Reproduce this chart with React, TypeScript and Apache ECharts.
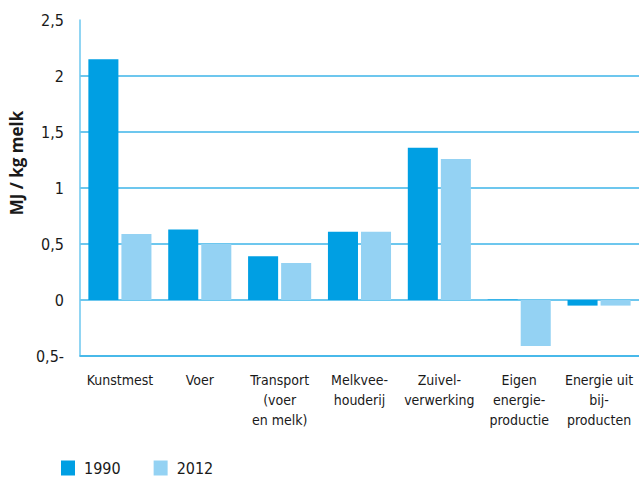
import React, { useEffect, useRef } from "react";
import * as echarts from "echarts";

const categories = [
  "Kunstmest",
  "Voer",
  "Transport\n(voer\nen melk)",
  "Melkvee-\nhouderij",
  "Zuivel-\nverwerking",
  "Eigen\nenergie-\nproductie",
  "Energie uit\nbij-\nproducten",
];
const values1990 = [2.15, 0.63, 0.39, 0.61, 1.36, 0.005, -0.05];
const values2012 = [0.59, 0.5, 0.33, 0.61, 1.26, -0.41, -0.05];
const seriesNames = ["1990", "2012"];

const FONT = "'Liberation Sans Narrow', 'DejaVu Sans Condensed', sans-serif";

export default function App() {
  const ref = useRef<HTMLDivElement>(null);
  useEffect(() => {
    document.body.style.margin = "0";
    const chart = echarts.init(ref.current!, null, { renderer: "svg" });
    const gridColor = "#3db5e8";
    chart.setOption({
      animation: false,
      textStyle: { fontFamily: FONT },
      grid: { left: 78, right: 0, top: 20, bottom: 122, containLabel: false },
      legend: {
        data: seriesNames,
        left: 56,
        top: 455,
        icon: "rect",
        itemWidth: 14,
        itemHeight: 15,
        itemGap: 33,
        textStyle: { fontSize: 16, color: "#1a1a1a", fontFamily: FONT, padding: [2, 0, 0, 4] },
      },
      xAxis: {
        type: "category",
        data: categories,
        axisLine: { show: true, onZero: false, lineStyle: { color: gridColor, width: 1.5 } },
        axisTick: { show: false },
        axisLabel: {
          interval: 0,
          margin: 14,
          fontSize: 14,
          lineHeight: 20,
          color: "#1a1a1a",
          fontFamily: FONT,
        },
      },
      yAxis: {
        type: "value",
        min: -0.5,
        max: 2.5,
        interval: 0.5,
        name: "MJ / kg melk",
        nameLocation: "middle",
        nameGap: 52,
        nameRotate: 90,
        nameTextStyle: {
          fontSize: 17,
          fontWeight: "bold",
          color: "#1a1a1a",
          fontFamily: "'Open Sans', sans-serif",
          padding: [0, 0, 0, 50],
        },
        axisLine: { show: true, lineStyle: { color: "#6cc7ef", width: 1.5 } },
        axisTick: { show: false },
        axisLabel: {
          margin: 16,
          fontSize: 16,
          color: "#1a1a1a",
          fontFamily: FONT,
          formatter: (v: number) =>
            v < 0 ? String(-v).replace(".", ",") + "-" : String(v).replace(".", ","),
        },
        splitLine: {
          show: true,
          lineStyle: {
            color: [gridColor, gridColor, gridColor, gridColor, gridColor, gridColor, "rgba(0,0,0,0)"],
            width: 1.5,
          },
        },
      },
      series: [
        {
          name: seriesNames[0],
          type: "bar",
          data: values1990,
          itemStyle: { color: "#009fe3" },
          barGap: "10%",
          barCategoryGap: "21%",
        },
        {
          name: seriesNames[1],
          type: "bar",
          data: values2012,
          itemStyle: { color: "#94d2f3" },
          barGap: "10%",
          barCategoryGap: "21%",
        },
      ],
    });
    return () => chart.dispose();
  }, []);
  return <div ref={ref} style={{ width: 639, height: 478 }} />;
}
